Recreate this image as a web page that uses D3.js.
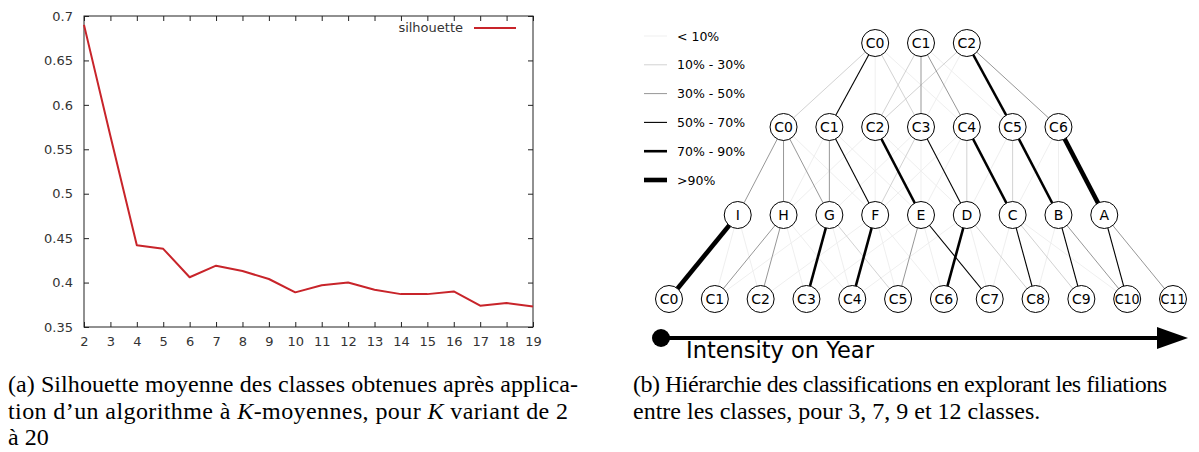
<!DOCTYPE html>
<html><head><meta charset="utf-8">
<script src="https://cdn.jsdelivr.net/npm/d3@7"></script>
<style>body{margin:0;background:#fff}svg{display:block}</style>
</head><body>
<script>
// ---------- data ----------
const kValues = [2,3,4,5,6,7,8,9,10,11,12,13,14,15,16,17,18,19];
const silhouette = [0.690,0.565,0.442,0.438,0.406,0.419,0.413,0.404,0.389,0.397,0.400,0.392,0.387,0.387,0.390,0.374,0.377,0.373];
const yTicks = [0.35,0.4,0.45,0.5,0.55,0.6,0.65,0.7];
const seriesName = "silhouette";

const level0 = ["C0","C1","C2"];
const level1 = ["C0","C1","C2","C3","C4","C5","C6"];
const level2 = ["I","H","G","F","E","D","C","B","A"];
const level3 = ["C0","C1","C2","C3","C4","C5","C6","C7","C8","C9","C10","C11"];
const strengthLabels = ["< 10%","10% - 30%","30% - 50%","50% - 70%","70% - 90%",">90%"];
// [source index, target index, strength class]
const links01 = [[0,0,1],[0,1,3],[0,2,0],[0,3,1],[1,2,1],[1,3,2],[1,4,2],[1,5,0],[2,2,1],[2,5,4],[2,6,2],[2,3,0],[0,4,0]];
const links12 = [[0,0,2],[0,1,2],[0,2,2],[1,2,2],[1,3,3],[2,4,4],[3,3,1],[3,5,3],[4,5,1],[4,6,4],[5,6,1],[5,7,4],[6,8,5],[6,7,0],
                 [1,1,0],[2,3,0],[2,5,0],[3,4,0],[4,4,0],[0,3,0],[1,4,0],[5,5,0],[3,2,0],[4,3,0],[6,6,0],[2,1,0]];
const links23 = [[0,0,5],[1,1,2],[1,2,2],[2,3,4],[2,5,1],[3,4,4],[4,5,2],[4,7,3],[5,6,4],[5,8,1],[6,8,3],[6,9,1],[7,9,3],[7,10,2],[8,10,3],[8,11,2],
                 [0,2,0],[1,3,0],[2,1,0],[3,6,0],[4,6,0],[5,7,0],[3,5,0],[6,7,0],[2,4,0],[1,4,0],[0,1,0],[4,3,0],[5,4,0],[6,10,0],[7,8,0],[3,2,0]];
const axisTitle = "Intensity on Year";
const captionA = ["(a) Silhouette moyenne des classes obtenues après applica-","tion d’un algorithme à |K|-moyennes, pour |K| variant de 2","à 20"];
const captionB = ["(b) Hiérarchie des classifications en explorant les filiations","entre les classes, pour 3, 7, 9 et 12 classes."];

// ---------- svg ----------
const W = 1199, H = 452;
const svg = d3.select("body").append("svg").attr("width", W).attr("height", H);

// ---------- left chart ----------
const pl = {l:84, r:533, t:16, b:327};
const x = d3.scaleLinear().domain([2,19]).range([pl.l, pl.r]);
const y = d3.scaleLinear().domain([0.35,0.7]).range([pl.b, pl.t]);
const gL = svg.append("g");
const tickFont = "'DejaVu Sans', sans-serif";

const axB = gL.append("g").attr("transform",`translate(0,${pl.b})`)
  .call(d3.axisBottom(x).tickValues(kValues).tickFormat(d3.format("d")).tickSizeInner(-5).tickSizeOuter(0).tickPadding(10));
const axT = gL.append("g").attr("transform",`translate(0,${pl.t})`)
  .call(d3.axisTop(x).tickValues(kValues).tickFormat("").tickSizeInner(-5).tickSizeOuter(0));
const axLft = gL.append("g").attr("transform",`translate(${pl.l},0)`)
  .call(d3.axisLeft(y).tickValues(yTicks).tickFormat(d=>d3.format("")(+d.toFixed(2))).tickSizeInner(-5).tickSizeOuter(0).tickPadding(11));
const axR = gL.append("g").attr("transform",`translate(${pl.r},0)`)
  .call(d3.axisRight(y).tickValues(yTicks).tickFormat("").tickSizeInner(-5).tickSizeOuter(0));
[axB,axT,axLft,axR].forEach(a=>{
  a.select(".domain").remove();
  a.selectAll("line").attr("stroke","#222");
  a.selectAll("text").attr("fill","#333").style("font-family",tickFont).style("font-size","13px");
});
gL.append("rect").attr("x",pl.l).attr("y",pl.t).attr("width",pl.r-pl.l).attr("height",pl.b-pl.t)
  .attr("fill","none").attr("stroke","#222").attr("stroke-width",1);

gL.append("path").datum(kValues.map((k,i)=>[k,silhouette[i]]))
  .attr("d", d3.line().x(d=>x(d[0])).y(d=>y(d[1])))
  .attr("fill","none").attr("stroke","#c8242a").attr("stroke-width",2).attr("stroke-linejoin","round");

gL.append("text").attr("x",463).attr("y",32).attr("text-anchor","end")
  .style("font-family",tickFont).style("font-size","13px").attr("fill","#333").text(seriesName);
gL.append("line").attr("x1",474).attr("x2",516).attr("y1",28).attr("y2",28)
  .attr("stroke","#c8242a").attr("stroke-width",2);

// ---------- right chart ----------
const levels = [level0, level1, level2, level3];
const levelY = [43,127,215,299];
const col = d3.scaleLinear().domain([0, level3.length-1]).range([669,1173]);
const colCenter = (level3.length-1)/2;
const nodeX = (lv,i) => col(colCenter - (levels[lv].length-1)/2 + i);
const strokeColor = ["#efefef","#d2d2d2","#979797","#000","#000","#000"];
const strokeW = [1,1,1,1.1,2.6,4.6];

const gR = svg.append("g");
const linkSets = [links01, links12, links23];
const allLinks = [];
linkSets.forEach((ls,lv)=>ls.forEach(l=>allLinks.push({lv, s:l[0], t:l[1], c:l[2]})));
allLinks.sort((a,b)=>a.c-b.c);
gR.selectAll("line.link").data(allLinks).join("line").attr("class","link")
  .attr("x1",d=>nodeX(d.lv,d.s)).attr("y1",d=>levelY[d.lv])
  .attr("x2",d=>nodeX(d.lv+1,d.t)).attr("y2",d=>levelY[d.lv+1])
  .attr("stroke",d=>strokeColor[d.c]).attr("stroke-width",d=>strokeW[d.c]);

const nodes = [];
levels.forEach((lvArr,lv)=>lvArr.forEach((name,i)=>nodes.push({lv,i,name})));
const ng = gR.selectAll("g.node").data(nodes).join("g").attr("class","node")
  .attr("transform",d=>`translate(${nodeX(d.lv,d.i)},${levelY[d.lv]})`);
ng.append("circle").attr("r",13.5).attr("fill","#fff").attr("stroke","#000").attr("stroke-width",1);
ng.append("text").attr("text-anchor","middle").attr("dy","0.36em")
  .style("font-family",tickFont).style("font-size","14px").attr("fill","#000")
  .attr("textLength",d=>d.name.length>2?25:null).attr("lengthAdjust","spacingAndGlyphs")
  .text(d=>d.name);

// legend
const lg = gR.append("g");
const legY = d3.scaleLinear().domain([0,5]).range([36,180]);
strengthLabels.forEach((lab,i)=>{
  lg.append("line").attr("x1",644).attr("x2",667).attr("y1",legY(i)).attr("y2",legY(i))
    .attr("stroke",strokeColor[i]).attr("stroke-width",strokeW[i]);
  lg.append("text").attr("x",677).attr("y",legY(i)).attr("dy","0.36em")
    .style("font-family",tickFont).style("font-size","12.5px").attr("fill","#000").text(lab);
});

// arrow axis
gR.append("line").attr("x1",661).attr("x2",1162).attr("y1",338).attr("y2",338)
  .attr("stroke","#000").attr("stroke-width",4);
gR.append("circle").attr("cx",661).attr("cy",338).attr("r",9).attr("fill","#000");
gR.append("path").attr("d","M1157,327 L1188,338 L1157,349 Z").attr("fill","#000");
gR.append("text").attr("x",686).attr("y",358)
  .style("font-family",tickFont).style("font-size","22.5px").attr("fill","#000").text(axisTitle);

// ---------- captions ----------
const capFont = "'Liberation Serif', 'Times New Roman', serif";
function caption(lines, x0, y0, widths){
  lines.forEach((ln,i)=>{
    const t = svg.append("text").attr("x",x0).attr("y",y0+i*26.5)
      .style("font-family",capFont).style("font-size","24px").attr("fill","#000");
    if (widths[i]) t.attr("textLength",widths[i]).attr("lengthAdjust","spacing");
    ln.split("|").forEach((part,j)=>{
      const ts = t.append("tspan").text(part);
      if (j%2===1) ts.style("font-style","italic");
    });
  });
}
caption(captionA, 8, 392, [570, 560, null]);
caption(captionB, 633, 392, [534, null]);
</script>
</body></html>
